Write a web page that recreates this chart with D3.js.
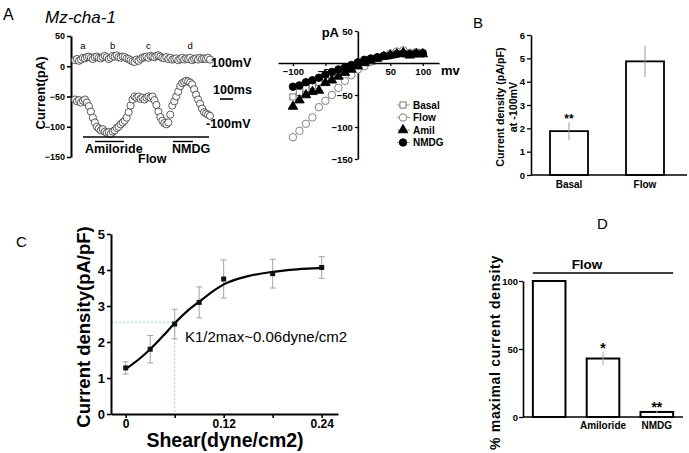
<!DOCTYPE html>
<html><head><meta charset="utf-8">
<script src="https://cdn.jsdelivr.net/npm/d3@7"></script>
<style>body{margin:0;background:#fff} svg{display:block} text{font-family:"Liberation Sans",Arial,sans-serif}</style>
</head><body><svg id="c" width="689" height="453"></svg>
<script>
// ---------- DATA ----------
// Panel A (left): current trace, +100mV and -100mV sweeps (pA)
const traceUpper = [10,12,9,11,14,13,15,16,14,12,15,16,14,13,15,17,15,12,14,17,16,18,15,14,16,15,13,12,10,8,7,11,9,12,14,15,16,14,17,16,15,17,18,16,14,13,15,12,14,11,12,13,10,12,14,11,13,12,14,10,12,13,11,14,12,13,12,14,11];
const traceLower = [-55,-58,-56,-60,-57,-55,-60,-66,-75,-85,-93,-100,-103,-106,-104,-108,-110,-109,-112,-108,-106,-102,-100,-96,-93,-90,-85,-76,-65,-55,-50,-52,-50,-54,-52,-55,-52,-50,-52,-50,-56,-64,-75,-84,-90,-94,-96,-93,-80,-65,-58,-50,-42,-33,-28,-26,-24,-25,-27,-30,-38,-47,-55,-62,-70,-76,-78,-80,-82];
const traceTicks = [50,0,-50,-100,-150];
const traceMarks = ["a","b","c","d"];
const traceMarkIndex = [4,19,37,58];
// Panel A (right): I-V curves
const ivVoltage = [-100,-90,-80,-70,-60,-50,-40,-30,-20,-10,0,10,20,30,40,50,60,70,80,90,100];
const ivBasal = [-53,-46,-40,-35,-30,-24,-20,-15,-10,-5,-1,3,5,8,11,14,16,18,15,17,16];
const ivFlow  = [-116,-106,-95,-85,-69,-59,-50,-39,-28,-19,-10,-5,2,8,11,15,18,20,16,16,16];
const ivAmil  = [-68,-58,-50,-45,-43,-31,-27,-21,-15,-10,-5,0,3,7,10,12,14,16,12,14,14];
const ivNMDG  = [-37,-35,-30,-27,-23,-18,-14,-10,-7,-3,1,5,7,9,11,12,14,15,14,15,15];
const ivSeriesNames = ["Basal","Flow","Amil","NMDG"];
const ivXTicks = [-100,-50,50,100];
const ivYTicks = [50,-50,-100,-150];
// Panel B
const bCategories = ["Basal","Flow"];
const bValues = [1.88,4.87];
const bErrors = [0.38,0.67];
const bTicks = [0,1,2,3,4,5,6];
// Panel C
const shear = [0,0.03,0.06,0.09,0.12,0.18,0.24];
const density = [1.28,1.8,2.5,3.1,3.75,3.9,4.07];
const densityErr = [0.17,0.38,0.41,0.43,0.53,0.4,0.3];
const fitShear = [0,0.015,0.03,0.045,0.06,0.075,0.09,0.105,0.12,0.15,0.18,0.21,0.24];
const fitDensity = [1.25,1.5,1.8,2.15,2.52,2.85,3.12,3.38,3.6,3.83,3.95,4.02,4.06];
const cXTicks = [0,0.06,0.12,0.18,0.24];
const cXLabels = ["0","","0.12","","0.24"];
const cYTicks = [0,1,2,3,4,5];
const halfMax = {shear:0.06, density:2.55};
// Panel D
const dCategories = ["Flow","Amiloride","NMDG"];
const dTickLabels = ["","Amiloride","NMDG"];
const dValues = [100,43,3.7];
const dErrors = [0,5,1];
const dStars = ["","*","**"];
const dTicks = [0,50,100];

// ---------- DRAW ----------
const svg = d3.select("#c");
const FONT = '"Liberation Sans",Arial,sans-serif';
const fmtInt = d3.format("d");
function styleAxis(g, fs, sw){
  g.selectAll("path.domain").attr("stroke","#000").attr("stroke-width",sw);
  g.selectAll(".tick line").attr("stroke","#000").attr("stroke-width",sw*0.8);
  g.selectAll(".tick text").attr("font-family",FONT).attr("font-weight","bold").attr("font-size",fs).attr("fill","#000");
}
function txt(x,y,s,o={}){
  return svg.append("text").attr("x",x).attr("y",y).text(s)
    .attr("font-size",o.size||12).attr("font-weight",o.weight||"bold")
    .attr("font-style",o.style||"normal").attr("text-anchor",o.anchor||"start")
    .attr("letter-spacing",o.ls||0)
    .attr("fill",o.fill||"#000");
}

// Panel letters
txt(3,20,"A",{size:16,weight:"normal"});
txt(45,23,"Mz-cha-1",{size:17,weight:"normal",style:"italic"});
txt(473,28,"B",{size:15,weight:"normal"});
txt(16,247,"C",{size:15,weight:"normal"});
txt(597,229,"D",{size:15,weight:"normal"});

// ===== Panel A trace =====
const ya = d3.scaleLinear().domain([-150,50]).range([157,36]);
const xa = d3.scaleLinear().domain([0,traceUpper.length-1]).range([75,210]);
const gA = svg.append("g").attr("transform","translate(71,0)")
  .call(d3.axisLeft(ya).tickValues(traceTicks).tickSize(4).tickSizeOuter(0).tickPadding(2).tickFormat(fmtInt));
styleAxis(gA,9,2);
[traceUpper,traceLower].forEach(tr=>{
  svg.append("g").selectAll("circle").data(tr).join("circle")
    .attr("cx",(d,i)=>xa(i)).attr("cy",d=>ya(d)).attr("r",3.6)
    .attr("fill","#fff").attr("fill-opacity",0.85).attr("stroke","#333").attr("stroke-width",0.8);
});
traceMarks.forEach((s,k)=>txt(xa(traceMarkIndex[k]),49,s,{size:9.5,weight:"normal",anchor:"middle"}));
txt(211,67,"100mV",{size:12.5});
txt(213,94,"100ms",{size:12.5});
svg.append("line").attr("x1",220).attr("x2",233).attr("y1",99).attr("y2",99).attr("stroke","#000").attr("stroke-width",1.6);
txt(206,128,"-100mV",{size:12.5});
svg.append("line").attr("x1",83).attr("x2",209).attr("y1",137).attr("y2",137).attr("stroke","#000").attr("stroke-width",1.4);
svg.append("line").attr("x1",95).attr("x2",124).attr("y1",141.5).attr("y2",141.5).attr("stroke","#000").attr("stroke-width",1.4);
svg.append("line").attr("x1",173).attr("x2",193).attr("y1",141.5).attr("y2",141.5).attr("stroke","#000").attr("stroke-width",1.4);
txt(85,153,"Amiloride",{size:12.5});
txt(172,153,"NMDG",{size:12.5});
txt(138,163,"Flow",{size:12.5});
txt(45,93,"Current(pA)",{size:13,anchor:"middle"}).attr("transform","rotate(-90,45,93)");

// ===== Panel A IV =====
const xi = d3.scaleLinear().domain([-123,125]).range([278,439]);
const yi = d3.scaleLinear().domain([-150,50]).range([159,31]);
const gIx = svg.append("g").attr("transform",`translate(0,${yi(0)})`)
  .call(d3.axisBottom(xi).tickValues(ivXTicks).tickSize(3).tickSizeOuter(0).tickPadding(2).tickFormat(fmtInt));
styleAxis(gIx,9.5,1.6);
const gIy = svg.append("g").attr("transform",`translate(${xi(0)},0)`)
  .call(d3.axisLeft(yi).tickValues(ivYTicks).tickSize(3).tickSizeOuter(0).tickPadding(2).tickFormat(fmtInt));
styleAxis(gIy,9.5,1.6);
txt(339,37,"pA",{size:13,anchor:"end"});
txt(441,75,"mv",{size:13});
const ivData = [ivBasal,ivFlow,ivAmil,ivNMDG];
const symbols = [d3.symbolSquare,d3.symbolCircle,d3.symbolTriangle,d3.symbolCircle];
const symSize = [38,44,40,44];
const symFill = ["#fff","#fff","#000","#000"];
const symStroke = ["#666","#777","#000","#000"];
ivData.forEach((ser,k)=>{
  svg.append("path").datum(ser)
    .attr("d",d3.line().x((d,i)=>xi(ivVoltage[i])).y(d=>yi(d)))
    .attr("fill","none").attr("stroke","#bbb").attr("stroke-width",0.5);
});
ivData.forEach((ser,k)=>{
  svg.append("g").selectAll("path").data(ser).join("path")
    .attr("transform",(d,i)=>`translate(${xi(ivVoltage[i])},${yi(d)})`)
    .attr("d",d3.symbol(symbols[k],symSize[k])())
    .attr("fill",symFill[k]).attr("stroke",symStroke[k]).attr("stroke-width",0.9);
});
ivSeriesNames.forEach((n,k)=>{
  const y = 105 + k*12.5;
  svg.append("line").attr("x1",397).attr("x2",410).attr("y1",y).attr("y2",y).attr("stroke","#888").attr("stroke-width",0.8);
  svg.append("path").attr("transform",`translate(403,${y})`).attr("d",d3.symbol(symbols[k],symSize[k])())
    .attr("fill",symFill[k]).attr("stroke",symStroke[k]).attr("stroke-width",0.9);
  txt(413,y+3.5,n,{size:10});
});

// ===== Panel B =====
const yb = d3.scaleLinear().domain([0,6]).range([175,35]);
const xb = d3.scaleBand().domain(bCategories).range([531,683]).paddingInner(0.5).paddingOuter(0.25);
svg.append("g").selectAll("rect").data(bValues).join("rect")
  .attr("x",(d,i)=>xb(bCategories[i])).attr("width",xb.bandwidth())
  .attr("y",d=>yb(d)).attr("height",d=>yb(0)-yb(d))
  .attr("fill","#fff").attr("stroke","#000").attr("stroke-width",1.8);
svg.append("g").selectAll("line").data(bValues).join("line")
  .attr("x1",(d,i)=>xb(bCategories[i])+xb.bandwidth()/2).attr("x2",(d,i)=>xb(bCategories[i])+xb.bandwidth()/2)
  .attr("y1",(d,i)=>yb(d-bErrors[i])).attr("y2",(d,i)=>yb(d+bErrors[i]))
  .attr("stroke","#999").attr("stroke-width",1);
const gBy = svg.append("g").attr("transform","translate(531,0)")
  .call(d3.axisLeft(yb).tickValues(bTicks).tickSize(4).tickSizeOuter(0).tickPadding(2).tickFormat(fmtInt));
styleAxis(gBy,9.5,1.6);
svg.append("line").attr("x1",531).attr("x2",687).attr("y1",yb(0)).attr("y2",yb(0)).attr("stroke","#000").attr("stroke-width",1.6);
bCategories.forEach((c,i)=>txt(xb(c)+xb.bandwidth()/2,188,c,{size:10,anchor:"middle"}));
txt(xb("Basal")+xb.bandwidth()/2,yb(bValues[0]+bErrors[0])+1,"**",{size:12,anchor:"middle"});
txt(504,107,"Current density (pA/pF)",{size:10.7,anchor:"middle"}).attr("transform","rotate(-90,504,107)");
txt(517,107,"at -100mV",{size:10.7,anchor:"middle"}).attr("transform","rotate(-90,517,107)");

// ===== Panel C =====
const xc = d3.scaleLinear().domain([-0.018,0.26]).range([111,338]);
const yc = d3.scaleLinear().domain([0,5]).range([414,234]);
svg.append("line").attr("x1",xc.range()[0]).attr("x2",xc(halfMax.shear)).attr("y1",yc(halfMax.density)).attr("y2",yc(halfMax.density))
  .attr("stroke","#8fd3e3").attr("stroke-width",1).attr("stroke-dasharray","2,2");
svg.append("line").attr("x1",xc(halfMax.shear)).attr("x2",xc(halfMax.shear)).attr("y1",yc(halfMax.density)).attr("y2",yc(0))
  .attr("stroke","#8fd3e3").attr("stroke-width",1).attr("stroke-dasharray","2,2");
const gCx = svg.append("g").attr("transform",`translate(0,${yc(0)})`)
  .call(d3.axisBottom(xc).tickValues(cXTicks).tickSize(4).tickSizeOuter(0).tickPadding(1).tickFormat((d,i)=>cXLabels[i]));
styleAxis(gCx,12,2);
const gCy = svg.append("g").attr("transform",`translate(${xc.range()[0]},0)`)
  .call(d3.axisLeft(yc).tickValues(cYTicks).tickSize(4).tickSizeOuter(0).tickPadding(2).tickFormat(fmtInt));
styleAxis(gCy,13,2);
svg.append("g").selectAll("line").data(density).join("line")
  .attr("x1",(d,i)=>xc(shear[i])).attr("x2",(d,i)=>xc(shear[i]))
  .attr("y1",(d,i)=>yc(d-densityErr[i])).attr("y2",(d,i)=>yc(d+densityErr[i]))
  .attr("stroke","#999").attr("stroke-width",0.9);
[-1,1].forEach(s=>{
  svg.append("g").selectAll("line").data(density).join("line")
    .attr("x1",(d,i)=>xc(shear[i])-3).attr("x2",(d,i)=>xc(shear[i])+3)
    .attr("y1",(d,i)=>yc(d+s*densityErr[i])).attr("y2",(d,i)=>yc(d+s*densityErr[i]))
    .attr("stroke","#999").attr("stroke-width",0.9);
});
svg.append("path").datum(fitDensity)
  .attr("d",d3.line().x((d,i)=>xc(fitShear[i])).y(d=>yc(d)).curve(d3.curveMonotoneX))
  .attr("fill","none").attr("stroke","#000").attr("stroke-width",2.2);
svg.append("g").selectAll("rect").data(density).join("rect")
  .attr("x",(d,i)=>xc(shear[i])-2.5).attr("y",d=>yc(d)-2.5).attr("width",5).attr("height",5).attr("fill","#111");
txt(185,342,"K1/2max~0.06dyne/cm2",{size:15,weight:"normal"});
txt(225,447,"Shear(dyne/cm2)",{size:19.5,anchor:"middle"});
txt(90,327,"Current density(pA/pF)",{size:18.5,anchor:"middle"}).attr("transform","rotate(-90,90,327)");

// ===== Panel D =====
const yd = d3.scaleLinear().domain([0,100]).range([417,281]);
const xd = d3.scaleBand().domain(dCategories).range([523,683]).paddingInner(0.394).paddingOuter(0.183);
svg.append("g").selectAll("rect").data(dValues).join("rect")
  .attr("x",(d,i)=>xd(dCategories[i])).attr("width",xd.bandwidth())
  .attr("y",d=>yd(d)).attr("height",d=>yd(0)-yd(d))
  .attr("fill","#fff").attr("stroke","#000").attr("stroke-width",2);
svg.append("g").selectAll("line").data(dValues.slice(1)).join("line")
  .attr("x1",(d,i)=>xd(dCategories[i+1])+xd.bandwidth()/2).attr("x2",(d,i)=>xd(dCategories[i+1])+xd.bandwidth()/2)
  .attr("y1",(d,i)=>yd(d+dErrors[i+1])).attr("y2",(d,i)=>yd(d-dErrors[i+1]))
  .attr("stroke","#aaa").attr("stroke-width",1);
const gDy = svg.append("g").attr("transform","translate(523,0)")
  .call(d3.axisLeft(yd).tickValues(dTicks).tickSize(4).tickSizeOuter(0).tickPadding(1).tickFormat(fmtInt));
styleAxis(gDy,9.5,1.6);
svg.append("line").attr("x1",523).attr("x2",683).attr("y1",yd(0)).attr("y2",yd(0)).attr("stroke","#000").attr("stroke-width",1.6);
dCategories.forEach((c,i)=>{
  txt(xd(c)+xd.bandwidth()/2,429,dTickLabels[i],{size:10,anchor:"middle"});
  txt(xd(c)+xd.bandwidth()/2,yd(dValues[i]+dErrors[i])+1,dStars[i],{size:14,anchor:"middle"});
});
svg.append("line").attr("x1",xd(dCategories[0])).attr("x2",xd(dCategories[2])+xd.bandwidth()).attr("y1",273).attr("y2",273).attr("stroke","#000").attr("stroke-width",1.6);
txt(587,269,"Flow",{size:13.5,anchor:"middle"});
txt(500,450,"% maximal current density",{size:14,anchor:"start",ls:0.7}).attr("transform","rotate(-90,500,450)");
</script></body></html>
